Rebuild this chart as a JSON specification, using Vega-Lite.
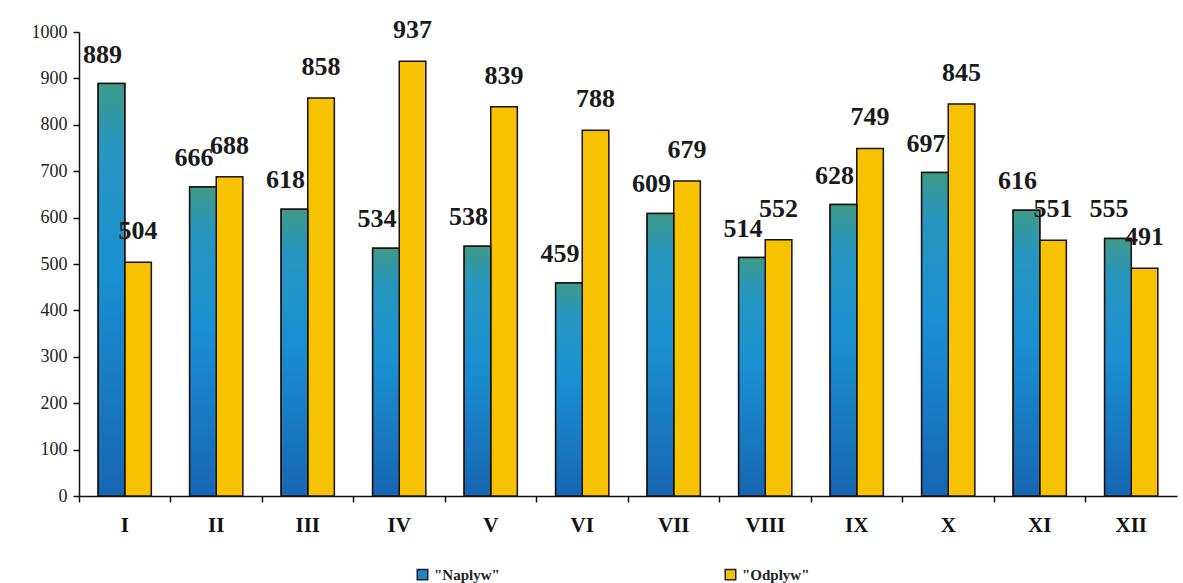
{
  "$schema": "https://vega.github.io/schema/vega-lite/v6.json",
  "autosize": {"type": "none"},
  "width": 1098,
  "height": 464,
  "padding": {"left": 79, "top": 32, "right": 6, "bottom": 87},
  "background": "white",
  "config": {"view": {"stroke": null}},
  "data": {
    "values": [
      {"month": "I", "series": "\"Naplyw\"", "value": 889},
      {"month": "I", "series": "\"Odplyw\"", "value": 504},
      {"month": "II", "series": "\"Naplyw\"", "value": 666},
      {"month": "II", "series": "\"Odplyw\"", "value": 688},
      {"month": "III", "series": "\"Naplyw\"", "value": 618},
      {"month": "III", "series": "\"Odplyw\"", "value": 858},
      {"month": "IV", "series": "\"Naplyw\"", "value": 534},
      {"month": "IV", "series": "\"Odplyw\"", "value": 937},
      {"month": "V", "series": "\"Naplyw\"", "value": 538},
      {"month": "V", "series": "\"Odplyw\"", "value": 839},
      {"month": "VI", "series": "\"Naplyw\"", "value": 459},
      {"month": "VI", "series": "\"Odplyw\"", "value": 788},
      {"month": "VII", "series": "\"Naplyw\"", "value": 609},
      {"month": "VII", "series": "\"Odplyw\"", "value": 679},
      {"month": "VIII", "series": "\"Naplyw\"", "value": 514},
      {"month": "VIII", "series": "\"Odplyw\"", "value": 552},
      {"month": "IX", "series": "\"Naplyw\"", "value": 628},
      {"month": "IX", "series": "\"Odplyw\"", "value": 749},
      {"month": "X", "series": "\"Naplyw\"", "value": 697},
      {"month": "X", "series": "\"Odplyw\"", "value": 845},
      {"month": "XI", "series": "\"Naplyw\"", "value": 616},
      {"month": "XI", "series": "\"Odplyw\"", "value": 551},
      {"month": "XII", "series": "\"Naplyw\"", "value": 555},
      {"month": "XII", "series": "\"Odplyw\"", "value": 491}
    ]
  },
  "encoding": {
    "x": {
      "field": "month",
      "type": "nominal",
      "sort": null,
      "scale": {"paddingInner": 0, "paddingOuter": 0},
      "axis": {
        "title": null,
        "labelAngle": 0,
        "bandPosition": 0,
        "labelFont": "Liberation Serif",
        "labelFontWeight": "bold",
        "labelFontSize": 21,
        "labelColor": "#111",
        "labelPadding": 12,
        "domainColor": "#111",
        "domainWidth": 1.5,
        "tickColor": "#111",
        "tickSize": 6,
        "tickWidth": 1.5,
        "labelBound": false
      }
    },
    "xOffset": {
      "field": "series",
      "type": "nominal",
      "scale": {"paddingInner": 0, "paddingOuter": 0.72}
    },
    "y": {
      "field": "value",
      "type": "quantitative",
      "scale": {"domain": [0, 1000], "nice": false},
      "axis": {
        "title": null,
        "format": "d",
        "values": [0, 100, 200, 300, 400, 500, 600, 700, 800, 900, 1000],
        "grid": false,
        "labelFont": "Liberation Serif",
        "labelFontSize": 18,
        "labelColor": "#222",
        "labelPadding": 6,
        "domainColor": "#111",
        "domainWidth": 1.5,
        "tickColor": "#111",
        "tickSize": 6,
        "tickWidth": 1.5
      }
    }
  },
  "layer": [
    {
      "mark": {"type": "bar", "stroke": "#1a1010", "strokeWidth": 1.5},
      "encoding": {
        "color": {
          "field": "series",
          "type": "nominal",
          "scale": {"domain": ["\"Naplyw\"", "\"Odplyw\""], "range": ["#1b86c9", "#f7c200"]},
          "legend": {
            "title": null,
            "orient": "none",
            "legendX": 336,
            "legendY": 535,
            "direction": "horizontal",
            "symbolType": "square",
            "symbolSize": 110,
            "symbolStrokeColor": "#222",
            "symbolStrokeWidth": 1.5,
            "labelFont": "Liberation Serif",
            "labelFontWeight": "bold",
            "labelFontSize": 15,
            "labelColor": "#222",
            "columnPadding": 222
          }
        }
      }
    },
    {
      "transform": [{"filter": "datum.series == '\"Naplyw\"'"}],
      "mark": {
        "type": "bar",
        "stroke": "#1a1010",
        "strokeWidth": 1.5,
        "color": {
          "gradient": "linear",
          "x1": 0, "y1": 0, "x2": 0, "y2": 1,
          "stops": [
            {"offset": 0, "color": "#3e9a88"},
            {"offset": 0.15, "color": "#2796bf"},
            {"offset": 0.45, "color": "#1a90d2"},
            {"offset": 1, "color": "#1766b3"}
          ]
        }
      }
    },
    {
      "transform": [{"filter": "datum.series == '\"Naplyw\"'"}],
      "mark": {"type": "text", "baseline": "bottom", "dy": -16, "dx": -9, "font": "Liberation Serif", "fontWeight": "bold", "fontSize": 26, "color": "#1a1a1a"},
      "encoding": {"text": {"field": "value", "type": "quantitative"}}
    },
    {
      "transform": [{"filter": "datum.series == '\"Odplyw\"'"}],
      "mark": {"type": "text", "baseline": "bottom", "dy": -18, "dx": 0, "font": "Liberation Serif", "fontWeight": "bold", "fontSize": 26, "color": "#1a1a1a"},
      "encoding": {"text": {"field": "value", "type": "quantitative"}}
    }
  ]
}
